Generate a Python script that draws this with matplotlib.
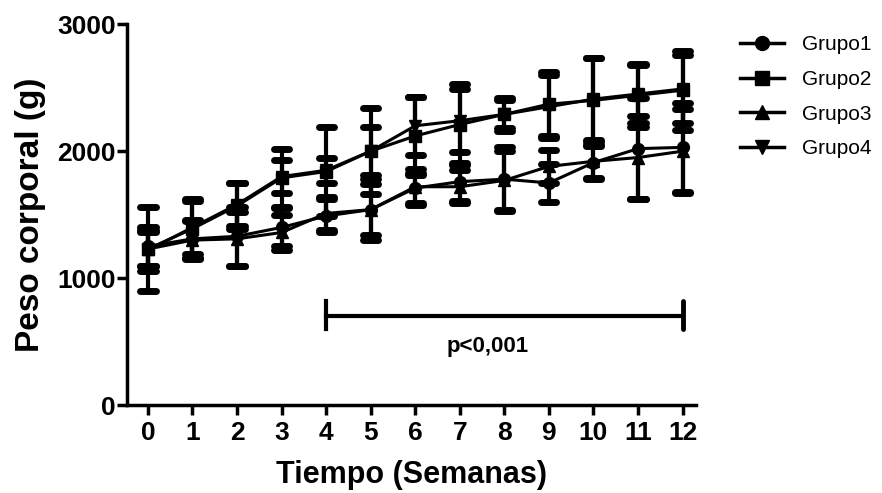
import matplotlib.pyplot as plt
from matplotlib.lines import Line2D

plt.rcParams['font.family'] = ['Liberation Sans', 'DejaVu Sans']

semanas = list(range(13))

g1_media = [1250, 1310, 1330, 1400, 1490, 1540, 1710, 1760, 1780, 1750, 1910, 2020, 2030]
g1_err = [150, 150, 230, 150, 130, 240, 120, 150, 250, 150, 130, 400, 350]
g2_media = [1230, 1390, 1570, 1790, 1840, 2000, 2120, 2210, 2290, 2370, 2400, 2440, 2480]
g2_err = [330, 230, 180, 230, 350, 340, 310, 320, 130, 250, 330, 250, 310]
g3_media = [1230, 1300, 1310, 1360, 1510, 1540, 1720, 1720, 1770, 1880, 1920, 1950, 2000]
g3_err = [130, 150, 210, 140, 130, 200, 140, 130, 230, 130, 130, 330, 330]
g4_media = [1220, 1400, 1580, 1800, 1850, 2000, 2200, 2240, 2290, 2350, 2410, 2450, 2490]
g4_err = [160, 210, 170, 130, 100, 190, 230, 250, 110, 250, 320, 230, 270]

grupos = ['Grupo1', 'Grupo2', 'Grupo3', 'Grupo4']
medias = [g1_media, g2_media, g3_media, g4_media]
errores = [g1_err, g2_err, g3_err, g4_err]
marcadores = ['o', 's', '^', 'v']

fig = plt.figure(figsize=(8.82, 4.93), dpi=100)
ax = fig.add_axes([0.144, 0.178, 0.645, 0.773])

for nombre, m, e, mk in zip(grupos, medias, errores, marcadores):
    ax.errorbar(semanas, m, yerr=e, color='black', marker=mk, markersize=8.5,
                linewidth=2.2, elinewidth=3, capsize=0)
    # tapas redondeadas
    arriba = [a + b for a, b in zip(m, e)]
    abajo = [a - b for a, b in zip(m, e)]
    xs = [x - 0.17 for x in semanas]
    xe = [x + 0.17 for x in semanas]
    ax.hlines(arriba, xs, xe, color='black', linewidth=5, capstyle='round')
    ax.hlines(abajo, xs, xe, color='black', linewidth=5, capstyle='round')

# barra de significancia
ax.plot([4, 12], [705, 705], color='black', linewidth=3)
ax.plot([4, 4], [600, 820], color='black', linewidth=3)
ax.plot([12, 12], [600, 820], color='black', linewidth=3.5, solid_capstyle='round')
ax.text(7.62, 465, 'p<0,001', ha='center', va='center', fontsize=16, fontweight='bold')

ax.set_xlim(-0.47, 12.3)
ax.set_ylim(0, 3000)
ax.set_xticks(semanas)
ax.set_yticks([0, 1000, 2000, 3000])
ax.tick_params(axis='both', width=2.5, length=7, labelsize=19)
ax.tick_params(axis='x', pad=4)
ax.tick_params(axis='y', pad=1)
for lab in ax.get_xticklabels() + ax.get_yticklabels():
    lab.set_fontweight('bold')
for s in ['top', 'right']:
    ax.spines[s].set_visible(False)
for s in ['left', 'bottom']:
    ax.spines[s].set_linewidth(2.5)

ax.set_xlabel('Tiempo (Semanas)', fontsize=22, fontweight='bold', labelpad=11)
ax.set_ylabel('Peso corporal (g)', fontsize=24, fontweight='bold', labelpad=8)

handles = [Line2D([], [], color='black', marker=mk, markersize=10, linewidth=2.5)
           for mk in marcadores]
ax.legend(handles, grupos, loc='upper left', bbox_to_anchor=(1.045, 1.02), frameon=False,
          fontsize=15, handlelength=2.1, labelspacing=0.75, handletextpad=0.85)

fig.savefig('out.png', dpi=100)
